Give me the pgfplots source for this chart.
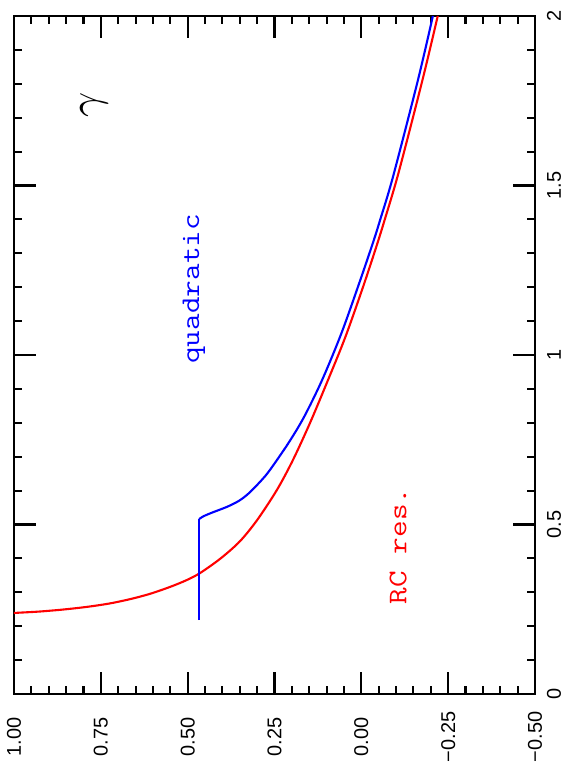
\documentclass[border=0pt]{standalone}
\usepackage{pgfplots}
\pgfplotsset{compat=1.18}
\usepackage{pgfplotstable}
\usepackage{fontspec}
\setmainfont{Liberation Sans}

% original orientation: x from 0 to 2, y from -0.5 to 1 (drawn rotated by 90 degrees)
\pgfplotstableread{
x y
0.234 1.070
0.239 1.000
0.243 0.930
0.249 0.860
0.257 0.790
0.267 0.725
0.280 0.665
0.295 0.610
0.315 0.553
0.335 0.505
0.357 0.464
0.400 0.405
0.450 0.350
0.513 0.300
0.602 0.243
0.690 0.197
0.799 0.148
0.926 0.096
1.053 0.046
1.201 -0.005
1.319 -0.043
1.398 -0.067
1.537 -0.107
1.811 -0.176
2.000 -0.220
}\rcres

\pgfplotstableread{
x y
0.218 0.467
0.516 0.467
}\quadvert

\pgfplotstableread{
x y
0.516 0.467
0.524 0.455
0.535 0.430
0.552 0.387
0.570 0.352
0.593 0.323
0.631 0.287
0.661 0.263
0.740 0.210
0.817 0.165
0.926 0.113
1.065 0.057
1.221 0.003
1.339 -0.036
1.398 -0.054
1.525 -0.091
1.811 -0.163
2.000 -0.206
}\quadcurve

\begin{document}
\begin{tikzpicture}
\begin{axis}[
  name=ax,
  scale only axis, width=521bp, height=678bp,
  x dir=reverse, xmin=-0.5, xmax=1, ymin=0, ymax=2,
  xtick={1,0.75,0.5,0.25,0,-0.25,-0.5},
  xticklabels={1.00,0.75,0.50,0.25,0.00,−0.25,−0.50},
  ytick={0,0.5,1,1.5,2},
  yticklabels={0,0.5,1,1.5,2},
  minor x tick num=4, minor y tick num=4,
  xtick pos=both, xticklabel pos=bottom,
  ytick pos=both, yticklabel pos=right,
  major tick length=22bp, minor tick length=8bp,
  tick style={black, line width=2.1bp},
  axis line style={line width=2.2bp},
  tick label style={font=\fontsize{20}{24}\selectfont, rotate=90, anchor=center},
  xticklabel shift=43bp,
  yticklabel shift=19bp,
]
\addplot[red, line width=2.1bp, smooth] table[x=y, y=x] {\rcres};
\addplot[blue, line width=2.1bp] table[x=y, y=x] {\quadvert};
\addplot[blue, line width=2.1bp, smooth] table[x=y, y=x] {\quadcurve};
\node[rotate=90, scale=4.4] at (axis cs:0.770,1.737) {$\gamma$};
\node[rotate=90, xscale=1.2, text=blue, font=\ttfamily\fontsize{27}{32}\selectfont] at (axis cs:0.482,1.195) {quadratic};
\node[rotate=90, xscale=1.2, text=red, font=\ttfamily\fontsize{27}{32}\selectfont] at (axis cs:-0.106,0.437) {RC res.};
\end{axis}
\path ([shift={(-14bp,-88bp)}]ax.south west) rectangle ([shift={(37bp,16bp)}]ax.north east);
\end{tikzpicture}
\end{document}
